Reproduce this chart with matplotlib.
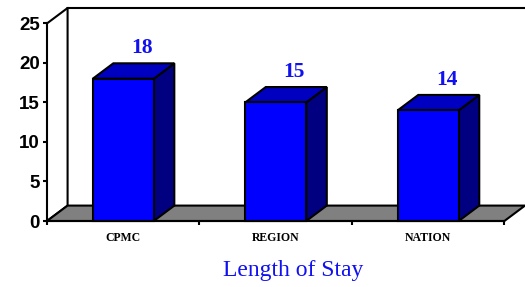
import matplotlib
matplotlib.use("Agg")
import matplotlib.pyplot as plt
from matplotlib.patches import Polygon

# Data
categories = ["CPMC", "REGION", "NATION"]
values = [18, 15, 14]
value_labels = ["18", "15", "14"]
y_ticks = [0, 5, 10, 15, 20, 25]

# 3D look: depth offset in data units
dx = 0.135
dy = 1.95
bar_w = 0.4
ymax = 25

fig = plt.figure(figsize=(5.25, 2.87), dpi=100)
ax = fig.add_axes([47 / 525, 66 / 287, 478 / 525, 213 / 287])
ax.set_xlim(0, 3 + dx)
ax.set_ylim(0, ymax + dy)

# back wall edges
ax.plot([0, dx, dx], [0, dy, ymax + dy], color="black", lw=1.5, clip_on=False)
ax.plot([0, dx, 3 + dx], [ymax, ymax + dy, ymax + dy], color="black", lw=1.5, clip_on=False)

# floor
floor = Polygon([(0, 0), (3, 0), (3 + dx, dy), (dx, dy)], closed=True,
                facecolor="#808080", edgecolor="black", lw=1.5, clip_on=False, zorder=2)
ax.add_patch(floor)

# bars
for i, v in enumerate(values):
    x0 = i + 0.5 - bar_w / 2
    x1 = x0 + bar_w
    side = Polygon([(x1, 0), (x1 + dx, dy), (x1 + dx, v + dy), (x1, v)],
                   facecolor="#000080", edgecolor="black", lw=1.5, zorder=3, clip_on=False)
    top = Polygon([(x0, v), (x1, v), (x1 + dx, v + dy), (x0 + dx, v + dy)],
                  facecolor="#0000C0", edgecolor="black", lw=1.5, zorder=3, clip_on=False)
    front = Polygon([(x0, 0), (x1, 0), (x1, v), (x0, v)],
                    facecolor="#0000FF", edgecolor="black", lw=1.5, zorder=4, clip_on=False)
    ax.add_patch(side)
    ax.add_patch(top)
    ax.add_patch(front)
    ax.text(i + 0.5 + dx * 0.9, v + dy + 1.9, value_labels[i], ha="center", va="center",
            fontsize=15.5, fontweight="bold", color="#1010F0", family="Liberation Serif")

# axes styling
for s in ["top", "right"]:
    ax.spines[s].set_visible(False)
ax.spines["left"].set_bounds(0, ymax)
ax.spines["bottom"].set_bounds(0, 3)
ax.spines["left"].set_linewidth(1.5)
ax.spines["bottom"].set_linewidth(1.5)
ax.spines["left"].set_zorder(5)
ax.spines["bottom"].set_zorder(5)

ax.set_yticks(y_ticks)
ax.set_yticklabels([str(t) for t in y_ticks], fontsize=13.5, fontweight="bold",
                   family="Liberation Sans")
ax.tick_params(axis="y", length=3, width=1.5, pad=2)

ax.set_xticks([0.5, 1.5, 2.5])
ax.set_xticklabels(categories, fontsize=8.5, fontweight="bold", family="Liberation Serif")
ax.set_xticks([0, 1, 2, 3], minor=True)
ax.tick_params(axis="x", which="major", length=0, pad=8)
ax.tick_params(axis="x", which="minor", length=3, width=1.5)

ax.set_xlabel("Length of Stay", fontsize=17, color="#1010F0", family="Liberation Serif")
ax.xaxis.set_label_coords(0.515, -0.185)

fig.savefig("out.png", dpi=100)
